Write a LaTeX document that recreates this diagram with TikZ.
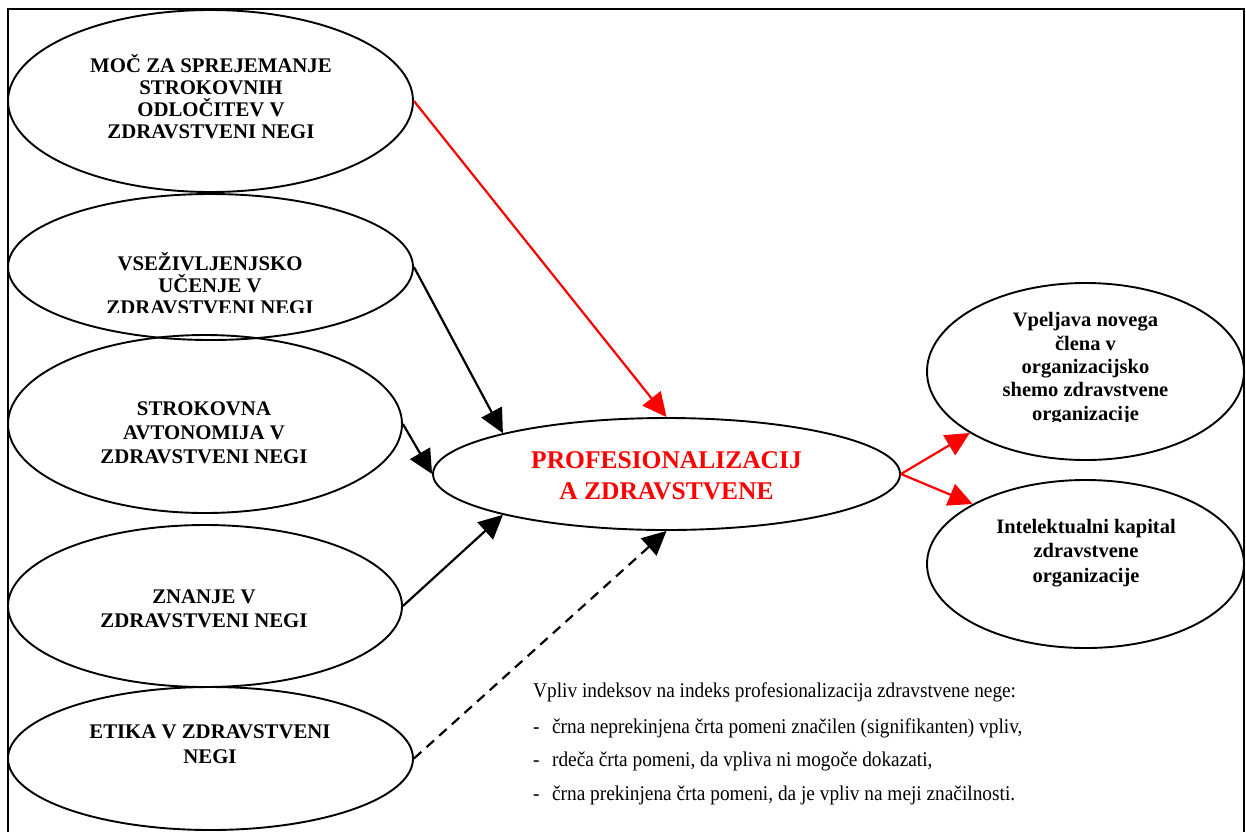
\documentclass[tikz,border=0pt]{standalone}
\usepackage{fontspec}
\setmainfont{Liberation Serif}
\usepackage{graphicx}
\usetikzlibrary{arrows.meta,shapes.geometric}
\begin{document}
\begin{tikzpicture}[x=1pt,y=-1pt,
  ell/.style={draw, ellipse, line width=1.9pt, inner sep=0pt},
  lbl/.style={align=center, inner sep=0pt, anchor=base, font=\fontsize{20.8}{21.8}\selectfont\bfseries},
  arr/.style={-{Triangle[length=24pt,width=23pt]}, line width=2.2pt},
  leg/.style={anchor=base west, inner sep=0pt, font=\fontsize{21}{24}\selectfont},
  frame/.style={line width=2.4pt}]
\useasboundingbox (0,0) rectangle (1246,831);
% frame
\draw[frame] (8,835) -- (8,9) -- (1244,9) -- (1244,835);
% left ellipses
\node[ell, minimum width=405, minimum height=182] (e1) at (210.5,101) {};
\node[ell, minimum width=405, minimum height=146] (e2) at (210.5,267) {};
\node[ell, minimum width=394, minimum height=178] (e3) at (205,424) {};
\node[ell, minimum width=394, minimum height=162] (e4) at (205,606) {};
\node[ell, minimum width=405, minimum height=143] (e5) at (210.5,758.5) {};
% centre and right ellipses
\node[ell, minimum width=467, minimum height=112] (c) at (666.5,474) {};
\node[ell, minimum width=317, minimum height=177] (v) at (1085.5,371.5) {};
\node[ell, minimum width=317, minimum height=168] (i) at (1085.5,564) {};
% texts (anchor base = baseline of the last line)
\node[lbl] (t1) at (211,138) {MOČ ZA SPREJEMANJE\\STROKOVNIH\\ODLOČITEV V\\ZDRAVSTVENI NEGI};
\begin{scope}
\clip (0,0) rectangle (1246,312);
\node[lbl, font=\fontsize{20.8}{22}\selectfont\bfseries] (t2) at (210,314) {VSEŽIVLJENJSKO\\UČENJE V\\ZDRAVSTVENI NEGI};
\end{scope}
\node[lbl, font=\fontsize{20.8}{24}\selectfont\bfseries] (t3) at (204,463) {STROKOVNA\\AVTONOMIJA V\\ZDRAVSTVENI NEGI};
\node[lbl, font=\fontsize{20.8}{24}\selectfont\bfseries] (t4) at (204,627) {ZNANJE V\\ZDRAVSTVENI NEGI};
\node[lbl, font=\fontsize{20.8}{25}\selectfont\bfseries] (t5) at (210,763) {ETIKA V ZDRAVSTVENI\\NEGI};
\node[lbl, text=red, font=\fontsize{25.5}{31}\selectfont\bfseries] (tc) at (666.5,499) {PROFESIONALIZACIJ\\A ZDRAVSTVENE};
\begin{scope}
\clip (0,0) rectangle (1246,421.5);
\node[lbl, font=\fontsize{20.5}{23.3}\selectfont\bfseries] (tv) at (1085.5,420) {Vpeljava novega\\člena v\\organizacijsko\\shemo zdravstvene\\organizacije};
\end{scope}
\node[lbl, font=\fontsize{20.5}{24.5}\selectfont\bfseries] (ti) at (1086,582) {Intelektualni kapital\\zdravstvene\\organizacije};
% connectors
\draw[arr, red] (e1.east) -- (c.north);
\draw[arr] (e2.east) -- (c.166);
\draw[arr] (e3.east) -- (c.west);
\draw[arr] (e4.east) -- (c.-166);
\draw[arr, dash pattern=on 10pt off 7pt] (e5.east) -- (c.south);
\draw[arr, red] (c.east) -- (v.208);
\draw[arr, red] (c.east) -- (i.152);
% legend
\node[leg] (l0) at (533,697) {\scalebox{0.92}[1]{Vpliv indeksov na indeks profesionalizacija zdravstvene nege:}};
\node[leg] (l1) at (533,733) {\scalebox{0.92}[1]{\makebox[20.6pt][l]{-}črna neprekinjena črta pomeni značilen (signifikanten) vpliv,}};
\node[leg] (l2) at (533,766) {\scalebox{0.92}[1]{\makebox[20.6pt][l]{-}rdeča črta pomeni, da vpliva ni mogoče dokazati,}};
\node[leg] (l3) at (533,800) {\scalebox{0.92}[1]{\makebox[20.6pt][l]{-}črna prekinjena črta pomeni, da je vpliv na meji značilnosti.}};
\end{tikzpicture}
\end{document}
